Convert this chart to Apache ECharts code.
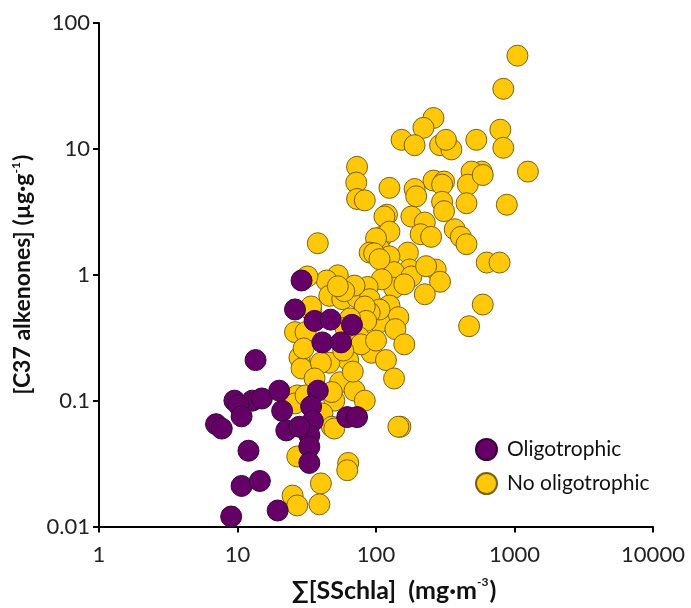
<!DOCTYPE html>
<html>
<head>
<meta charset="utf-8">
<script src="https://cdn.jsdelivr.net/npm/echarts@6/dist/echarts.min.js"></script>
<style>
html,body{margin:0;padding:0;background:#fff;}
#chart{width:691px;height:608px;}
</style>
</head>
<body>
<div id="chart"></div>
<script>
// Series names
const seriesNames = ['Oligotrophic', 'No oligotrophic'];

// Oligotrophic points: [ΣSSchla (mg·m-3), C37 alkenones (µg·g-1)]
const oligotrophic = [
  [29, 0.9], [26, 0.53], [36, 0.43], [47, 0.44], [67, 0.40], [41, 0.29], [56, 0.29],
  [13.5, 0.21], [9.5, 0.10], [12.8, 0.10], [15, 0.104], [10.2, 0.092], [20, 0.12], [38, 0.12],
  [21, 0.083], [22.5, 0.058], [34, 0.09], [35, 0.069], [33, 0.053], [33, 0.043], [33, 0.032],
  [7, 0.065], [7.7, 0.06], [10.7, 0.075], [12, 0.04], [10.7, 0.021], [14.5, 0.023],
  [9, 0.012], [19.5, 0.0134], [62, 0.074], [73, 0.074], [28, 0.062]
];

// No oligotrophic points
const noOligotrophic = [
  [1050, 55], [830, 30], [790, 14.2], [830, 10.2], [1250, 6.6], [530, 11.8], [260, 17.6], [220, 14.7],
  [153, 11.8], [190, 10.7], [290, 10.7], [350, 9.9], [320, 11.8], [580, 6.6], [490, 6.6], [260, 5.6],
  [310, 5.5], [460, 5.2], [190, 4.8], [125, 4.9], [300, 5.2], [590, 6.2], [880, 3.6], [195, 4.2],
  [300, 3.8], [310, 3.2], [450, 3.7], [120, 3.0], [180, 2.9], [225, 2.6], [210, 2.1], [250, 2.0],
  [370, 2.3], [410, 2.0], [450, 1.75], [110, 2.0], [106, 1.6], [170, 1.5], [125, 1.4], [630, 1.25],
  [780, 1.25], [270, 1.1], [175, 1.1], [135, 1.05], [290, 0.88], [180, 0.97], [135, 0.79], [225, 0.7],
  [590, 0.58], [470, 0.39], [125, 0.57], [145, 0.46], [106, 0.42], [138, 0.37],
  [73, 7.2], [72, 5.4], [73, 4.0], [83, 3.9], [115, 2.9], [38, 1.78], [125, 2.2], [100, 1.95],
  [90, 1.5], [97, 1.48], [106, 1.33], [230, 1.17], [110, 0.92], [53, 0.99], [44, 0.9], [87, 0.8],
  [32, 0.97], [46, 0.68], [57, 0.64], [73, 0.66], [90, 0.64], [106, 0.53], [90, 0.5], [83, 0.56],
  [85, 0.43], [160, 0.84], [34, 0.52], [26, 0.35], [31, 0.35], [75, 0.32], [93, 0.24], [118, 0.21],
  [160, 0.28], [63, 0.21], [46, 0.2], [28, 0.22], [29, 0.18], [40, 0.2], [36, 0.15], [55, 0.14],
  [70, 0.12], [83, 0.1], [135, 0.15], [50, 0.1], [48, 0.117], [41, 0.079], [48, 0.062], [150, 0.062],
  [27, 0.11], [50, 0.06], [27, 0.036], [63, 0.032], [62, 0.028], [40, 0.022], [25, 0.0176],
  [27, 0.0147], [39, 0.015], [26, 0.095], [30, 0.26], [34, 0.56], [31, 0.11], [70, 0.82], [59, 0.74],
  [53, 0.81], [145, 0.062], [65, 0.45], [60, 0.38], [78, 0.28], [100, 0.3], [68, 0.17], [58, 0.25]
];

// Axis ranges
const xRange = [1, 10000];
const yRange = [0.01, 100];

const FONT = 'Lato, "Open Sans", sans-serif';
const fmt = v => String(+(+v).toPrecision(6));

const yNameRich = {
  a: {fontFamily: FONT, fontSize: 23, fontWeight: 'bold', color: '#111', lineHeight: 26},
  s: {fontFamily: FONT, fontSize: 12, fontWeight: 'bold', color: '#111', verticalAlign: 'top', lineHeight: 26, padding: [0, 1, 12, 0]}
};
const xNameRich = {
  a: {fontFamily: FONT, fontSize: 25, fontWeight: 'bold', color: '#111', lineHeight: 28},
  s: {fontFamily: FONT, fontSize: 12, fontWeight: 'bold', color: '#111', verticalAlign: 'top', lineHeight: 28, padding: [0, 1, 14, 0]}
};

const chart = echarts.init(document.getElementById('chart'), null, {renderer: 'canvas'});
chart.setOption({
  animation: false,
  backgroundColor: '#ffffff',
  grid: {left: 99, right: 38, top: 23, bottom: 80, containLabel: false},
  legend: {
    data: seriesNames,
    orient: 'vertical',
    left: 470,
    top: 433,
    icon: 'circle',
    itemWidth: 21,
    itemHeight: 21,
    itemGap: 11,
    textStyle: {fontFamily: FONT, fontSize: 21, color: '#111', padding: [0, 0, 0, 5]}
  },
  xAxis: {
    type: 'log',
    logBase: 10,
    min: xRange[0],
    max: xRange[1],
    name: '{a|∑[SSchla]  (mg·m}{s|-3}{a|)}',
    nameLocation: 'middle',
    nameGap: 50,
    nameTextStyle: {rich: xNameRich, padding: [0, 0, 0, 36]},
    axisLine: {show: true, onZero: false, lineStyle: {color: '#000', width: 2}},
    axisTick: {show: true, inside: false, length: 6, lineStyle: {color: '#000', width: 2}},
    minorTick: {show: false},
    splitLine: {show: false},
    axisLabel: {fontFamily: FONT, fontSize: 22, color: '#222', margin: 17, formatter: fmt}
  },
  yAxis: {
    type: 'log',
    logBase: 10,
    min: yRange[0],
    max: yRange[1],
    name: '{a|[C37 alkenones] (µg·g}{s|-1}{a|)}',
    nameLocation: 'middle',
    nameGap: 63,
    nameRotate: 90,
    nameTextStyle: {rich: yNameRich},
    axisLine: {show: true, onZero: false, lineStyle: {color: '#000', width: 2}},
    axisTick: {show: true, inside: false, length: 6, lineStyle: {color: '#000', width: 2}},
    minorTick: {show: false},
    splitLine: {show: false},
    axisLabel: {fontFamily: FONT, fontSize: 22, color: '#222', margin: 9, formatter: fmt}
  },
  series: [
    {
      name: seriesNames[1],
      type: 'scatter',
      data: noOligotrophic,
      symbol: 'circle',
      symbolSize: 21,
      itemStyle: {color: '#ffc808', borderColor: '#7a6112', borderWidth: 1, opacity: 1},
      z: 2
    },
    {
      name: seriesNames[0],
      type: 'scatter',
      data: oligotrophic,
      symbol: 'circle',
      symbolSize: 21,
      itemStyle: {color: '#640066', borderColor: '#3a003c', borderWidth: 1, opacity: 1},
      z: 3
    }
  ]
});
</script>
</body>
</html>
